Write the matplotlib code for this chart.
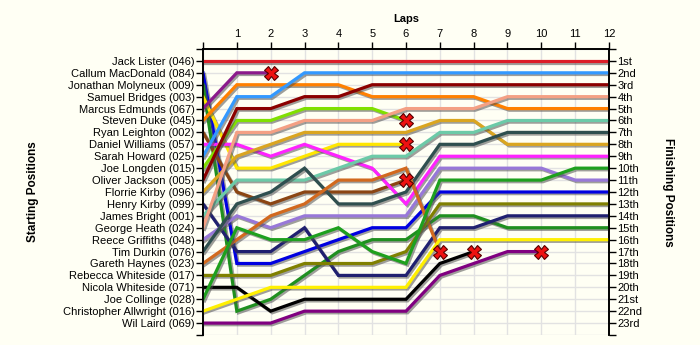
import matplotlib.pyplot as plt
import matplotlib.patheffects as pe

plt.rcParams['font.family'] = ['Liberation Sans', 'DejaVu Sans']

# grid entry order, names as shown on the starting side
drivers = [
    "Jack Lister (046)", "Callum MacDonald (084)", "Jonathan Molyneux (009)",
    "Samuel Bridges (003)", "Marcus Edmunds (067)", "Steven Duke (045)",
    "Ryan Leighton (002)", "Daniel Williams (057)", "Sarah Howard (025)",
    "Joe Longden (015)", "Oliver Jackson (005)", "Florrie Kirby (096)",
    "Henry Kirby (099)", "James Bright (001)", "George Heath (024)",
    "Reece Griffiths (048)", "Tim Durkin (076)", "Gareth Haynes (023)",
    "Rebecca Whiteside (017)", "Nicola Whiteside (071)", "Joe Collinge (028)",
    "Christopher Allwright (016)", "Wil Laird (069)",
]

finish_labels = [
    "1st", "2nd", "3rd", "4th", "5th", "6th", "7th", "8th", "9th", "10th",
    "11th", "12th", "13th", "14th", "15th", "16th", "17th", "18th", "19th",
    "20th", "21st", "22nd", "23rd",
]

lap_numbers = [0, 1, 2, 3, 4, 5, 6, 7, 8, 9, 10, 11, 12]

# position at the end of each lap (lap 0 = grid); shorter lists = retired
lap_positions = [
    [1, 1, 1, 1, 1, 1, 1, 1, 1, 1, 1, 1, 1],
    [2, 18, 18, 17, 16, 15, 15, 12, 12, 12, 12, 12, 12],
    [3, 22, 21, 19, 17, 16, 16, 14, 14, 15, 15, 15, 15],
    [4, 10, 10, 9, 8, 8, 8],
    [5, 2, 2],
    [6, 3, 3, 3, 3, 4, 4, 4, 4, 5, 5, 5, 5],
    [7, 12, 13, 12, 12, 12, 11],
    [8, 8, 9, 8, 9, 10, 13, 9, 9, 9, 9, 9, 9],
    [9, 4, 4, 2, 2, 2, 2, 2, 2, 2, 2, 2, 2],
    [10, 6, 6, 5, 5, 5, 6],
    [11, 5, 5, 4, 4, 3, 3, 3, 3, 3, 3, 3, 3],
    [12, 9, 8, 7, 7, 7, 7, 6, 6, 8, 8, 8, 8],
    [13, 17, 17, 15, 19, 19, 19, 15, 15, 14, 14, 14, 14],
    [14, 11, 11, 11, 10, 9, 9, 7, 7, 6, 6, 6, 6],
    [15, 7, 7, 6, 6, 6, 5, 5, 5, 4, 4, 4, 4],
    [16, 14, 15, 14, 14, 14, 14, 10, 10, 10, 10, 11, 11],
    [17, 13, 12, 10, 13, 13, 12, 8, 8, 7, 7, 7, 7],
    [18, 16, 14, 13, 11, 11, 10, 17],
    [19, 19, 19, 18, 18, 18, 17, 13, 13, 13, 13, 13, 13],
    [20, 20, 22, 21, 21, 21, 21, 18, 17],
    [21, 15, 16, 16, 15, 17, 18, 11, 11, 11, 11, 10, 10],
    [22, 21, 20, 20, 20, 20, 20, 16, 16, 16, 16, 16, 16],
    [23, 23, 23, 22, 22, 22, 22, 19, 18, 17, 17],
]

line_colors = [
    "#dc1e28", "#0000e0", "#1f8f1f", "#ffe600", "#8b1a8b", "#ff8000",
    "#8b4513", "#ff22ff", "#3399ff", "#80e000", "#8b0000", "#daa520",
    "#202070", "#6ccaa8", "#f4a084", "#9878d8", "#2f4f4f", "#d2691e",
    "#808000", "#000000", "#1ea01e", "#fff000", "#800080",
]

bg = "#fffff4"
fig = plt.figure(figsize=(7, 3.45), dpi=100, facecolor=bg)
ax = fig.add_axes([0.29, 0.029, 0.58, 0.829])
ax.set_facecolor(bg)

shadow = [pe.SimpleLineShadow(offset=(1.2, -1.2), shadow_color="#505050", alpha=0.55),
          pe.Normal()]

for pos, col in zip(lap_positions, line_colors):
    x = lap_numbers[:len(pos)]
    ax.plot(x, pos, color=col, lw=2.3, solid_joinstyle="miter",
            path_effects=shadow, zorder=3)
    if len(pos) < len(lap_numbers):
        # retirement marker
        ax.plot(x[-1], pos[-1], marker="X", ms=9.5, color="#ee1111",
                mec="#550000", mew=0.8, zorder=5)

ax.set_xlim(0, 12)
ax.set_ylim(24, 0)

ax.xaxis.tick_top()
ax.set_xticks(lap_numbers)
ax.set_xticklabels([""] + [str(n) for n in lap_numbers[1:]], fontsize=8)
ax.set_xlabel("Laps", fontsize=8, fontweight="bold")
ax.xaxis.set_label_position("top")
ax.xaxis.set_label_coords(0.5, 1.095)

ax.set_yticks(range(0, 25))
ax.set_yticklabels([""] + drivers + [""], fontsize=8)
ax.set_ylabel("Starting Positions", fontsize=8.5, fontweight="bold")
ax.yaxis.set_label_coords(-0.405, 0.5)

ax2 = ax.twinx()
ax2.set_ylim(24, 0)
ax2.set_yticks(range(0, 25))
ax2.set_yticklabels([""] + finish_labels + [""], fontsize=8)
ax2.set_ylabel("Finishing Positions", fontsize=8.5, fontweight="bold", rotation=270)
ax2.yaxis.set_label_coords(1.16, 0.5)

for a in (ax, ax2):
    a.tick_params(length=5, width=1, pad=1, color="black")
    a.spines["bottom"].set_visible(False)
    for s in ("left", "right", "top"):
        a.spines[s].set_linewidth(1.2)
ax.tick_params(axis="x", pad=2)

ax.grid(True, color="#e2e2e2", lw=1, zorder=0)
ax.set_axisbelow(True)

fig.savefig("out.png", dpi=100, facecolor=bg)
